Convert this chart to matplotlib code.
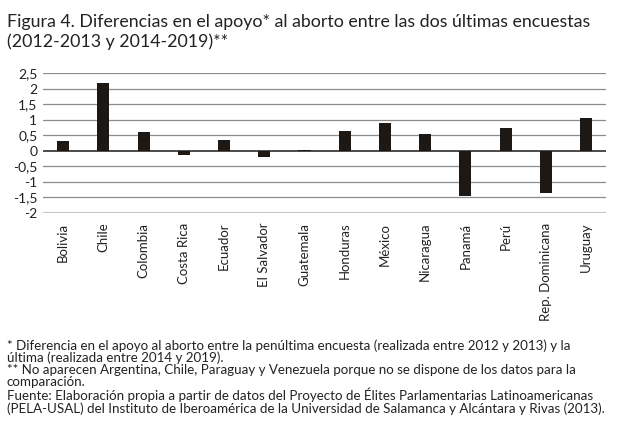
import matplotlib
matplotlib.use('Agg')
import matplotlib.pyplot as plt
from matplotlib.ticker import FuncFormatter

# Data
countries = ['Bolivia', 'Chile', 'Colombia', 'Costa Rica', 'Ecuador', 'El Salvador',
             'Guatemala', 'Honduras', 'México', 'Nicaragua', 'Panamá', 'Perú',
             'Rep. Dominicana', 'Uruguay']
differences = [0.31, 2.18, 0.60, -0.12, 0.35, -0.20, 0.04, 0.63, 0.89, 0.55,
               -1.45, 0.73, -1.36, 1.05]
y_ticks = [-2, -1.5, -1, -0.5, 0, 0.5, 1, 1.5, 2, 2.5]

title = ('Figura 4. Diferencias en el apoyo* al aborto entre las dos últimas encuestas\n'
         '(2012-2013 y 2014-2019)**')
notes = ('* Diferencia en el apoyo al aborto entre la penúltima encuesta (realizada entre 2012 y 2013) y la\n'
         'última (realizada entre 2014 y 2019).\n'
         '** No aparecen Argentina, Chile, Paraguay y Venezuela porque no se dispone de los datos para la\n'
         'comparación.\n'
         'Fuente: Elaboración propia a partir de datos del Proyecto de Élites Parlamentarias Latinoamericanas\n'
         '(PELA-USAL) del Instituto de Iberoamérica de la Universidad de Salamanca y Alcántara y Rivas (2013).')

plt.rcParams['font.family'] = ['Lato', 'DejaVu Sans']

fig = plt.figure(figsize=(6.23, 4.48), dpi=100)
ax = fig.add_axes([0.069, 0.5246, 0.904, 0.312])

x = range(len(countries))
ax.bar(x, differences, width=0.3, color='#1e1815', zorder=3)

ax.set_xlim(-0.5, len(countries) - 0.5)
ax.set_ylim(-2, 2.5)
ax.set_yticks(y_ticks)
ax.yaxis.set_major_formatter(FuncFormatter(lambda v, p: ('%g' % v).replace('.', ',')))
for v in y_ticks:
    if v == -2:
        ax.axhline(v, color='#c4c4c4', lw=2.2, zorder=1)
    elif v == 0:
        ax.axhline(v, color='#1a1a1a', lw=1.1, zorder=4)
    else:
        ax.axhline(v, color='#8c8c8c', lw=0.9, zorder=1)

ax.set_xticks(list(x))
ax.set_xticklabels(countries, rotation=90, fontsize=9.5, color='#222222')
ax.tick_params(axis='both', length=0, colors='#222222')
ax.tick_params(axis='y', labelsize=10, pad=4)
ax.tick_params(axis='x', pad=7)
for s in ax.spines.values():
    s.set_visible(False)

fig.text(0.011, 0.968, title, ha='left', va='top', fontsize=12.8, color='#222222',
         linespacing=1.2)
fig.text(0.011, 0.242, notes, ha='left', va='top', fontsize=9.6, color='#222222',
         linespacing=0.98)

fig.savefig('out.png', dpi=100)
